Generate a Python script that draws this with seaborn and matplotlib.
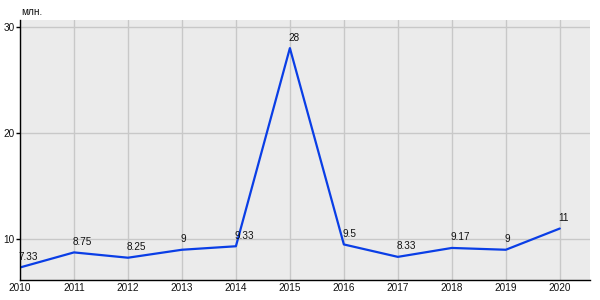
import matplotlib
matplotlib.use("Agg")
import matplotlib.pyplot as plt
import seaborn as sns
import pandas as pd

years = [2010, 2011, 2012, 2013, 2014, 2015, 2016, 2017, 2018, 2019, 2020]
values = [7.33, 8.75, 8.25, 9, 9.33, 28, 9.5, 8.33, 9.17, 9, 11]
labels = ["7.33", "8.75", "8.25", "9", "9.33", "28", "9.5", "8.33", "9.17", "9", "11"]
yticks = [10, 20, 30]
unit = "млн."

sns.set_theme(style="whitegrid")
plt.rcParams['font.family'] = ['Liberation Sans', 'DejaVu Sans']

df = pd.DataFrame({"year": years, "value": values})

fig = plt.figure(figsize=(6, 3), dpi=100)
ax = fig.add_axes([20/600, 20/300, 570/600, 260/300])
ax.set_facecolor("#ebebeb")

sns.lineplot(data=df, x="year", y="value", ax=ax, color="#0a3ee6", linewidth=1.6)

for x, y, t in zip(years, values, labels):
    ax.annotate(t, (x, y), xytext=(-1, 4), textcoords="offset points",
                fontsize=7.2, ha="left", va="bottom", color="#111111")

ax.set_xlim(2010, 2020.56)
ax.set_ylim(6.15, 30.65)
ax.set_xticks(years)
ax.set_xticklabels([str(y) for y in years])
ax.set_yticks(yticks)
ax.set_yticklabels([str(v) for v in yticks])
ax.grid(True, color="#c8c8c8", linewidth=1)
ax.set_xlabel("")
ax.set_ylabel("")
for s in ["top", "right"]:
    ax.spines[s].set_visible(False)
for s in ["left", "bottom"]:
    ax.spines[s].set_visible(True)
    ax.spines[s].set_color("black")
    ax.spines[s].set_linewidth(1)
ax.tick_params(axis="y", left=True, length=3, width=1, color="black", labelsize=7.2, pad=1, colors="black")
ax.tick_params(axis="x", bottom=False, length=0, labelsize=7.2, pad=2, colors="black")
for lbl in ax.get_xticklabels() + ax.get_yticklabels():
    lbl.set_color("#111111")

fig.text(21/600, 1 - 12/300, unit, fontsize=7.2, ha="left", va="center", color="#111111")

fig.savefig("out.png", dpi=100)
